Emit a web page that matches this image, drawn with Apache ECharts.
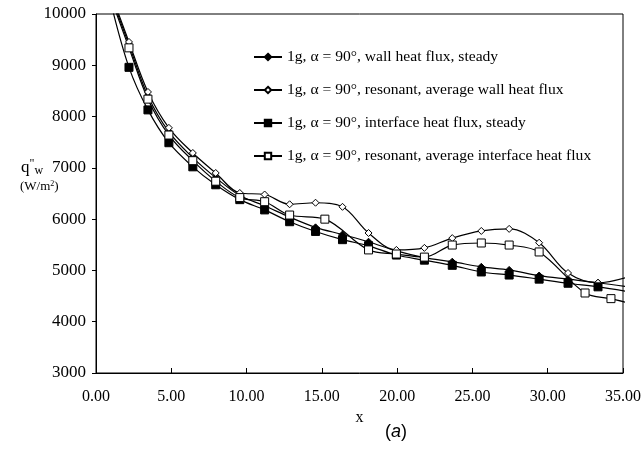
<!DOCTYPE html>
<html><head><meta charset="utf-8">
<script src="https://cdn.jsdelivr.net/npm/echarts@6/dist/echarts.min.js"></script>
<style>html,body{margin:0;padding:0;background:#fff}#c{width:644px;height:449px}</style>
</head><body><div id="c"></div>
<script>
// x positions of the computed points
var xs = [1.0, 2.19, 3.45, 4.84, 6.43, 7.95, 9.55, 11.2, 12.86, 14.58, 16.37, 18.1, 19.95, 21.81, 23.66, 25.59, 27.44, 29.43, 31.35, 33.34, 35.3];
// 1g, alpha=90, wall heat flux, steady
var wallSteady = [10350, 9400, 8400, 7700, 7200, 6810, 6460, 6260, 6040, 5840, 5700, 5560, 5380, 5250, 5170, 5070, 5010, 4900, 4830, 4760, 4680];
// 1g, alpha=90, resonant, average wall heat flux
var wallResonant = [10400, 9455, 8480, 7780, 7290, 6900, 6510, 6480, 6290, 6320, 6240, 5730, 5400, 5440, 5630, 5770, 5810, 5540, 4950, 4760, 4870];
// 1g, alpha=90, interface heat flux, steady
var ifaceSteady = [10200, 8960, 8130, 7490, 7020, 6670, 6380, 6180, 5950, 5760, 5600, 5480, 5300, 5200, 5100, 4970, 4910, 4830, 4750, 4680, 4590];
// 1g, alpha=90, resonant, average interface heat flux (own x positions)
var ifaceResX = [1.0, 2.19, 3.45, 4.84, 6.43, 7.95, 9.55, 11.2, 12.86, 15.2, 18.1, 19.95, 21.81, 23.66, 25.59, 27.44, 29.43, 32.48, 34.2, 35.3];
var ifaceResonant = [10300, 9340, 8340, 7640, 7140, 6740, 6420, 6340, 6080, 6000, 5400, 5320, 5260, 5495, 5535, 5495, 5360, 4560, 4450, 4370];

var names = [
  '1g, \u03b1 = 90\u00b0, wall heat flux, steady',
  '1g, \u03b1 = 90\u00b0, resonant, average wall heat flux',
  '1g, \u03b1 = 90\u00b0, interface heat flux, steady',
  '1g, \u03b1 = 90\u00b0, resonant, average interface heat flux'
];
var xTicks = [0, 5, 10, 15, 20, 25, 30, 35];

function pairs(x, y) { return x.map(function (v, i) { return [v, y[i]]; }); }

var serif = '"Liberation Serif", "Times New Roman", serif';
function mk(name, data, symbol, size, filled) {
  return {
    name: name, type: 'line', data: data, smooth: 0.35,
    symbol: symbol, symbolSize: size, showSymbol: true,
    lineStyle: { color: '#000', width: 1.2 },
    itemStyle: { color: filled ? '#000' : '#fff', borderColor: '#000', borderWidth: 1 },
    emphasis: { disabled: true }, clip: true, z: 3
  };
}

var chart = echarts.init(document.getElementById('c'), null, { renderer: 'canvas' });
chart.setOption({
  animation: false,
  backgroundColor: '#fff',
  grid: { left: 96, right: 20, top: 14, bottom: 76, show: true, borderColor: '#000', borderWidth: 1, backgroundColor: 'transparent' },
  legend: {
    orient: 'vertical', left: 248, top: 44, itemWidth: 28, itemHeight: 8, itemGap: 17,
    textStyle: { fontFamily: serif, fontSize: 15.6, color: '#000' },
    data: names, selectedMode: false
  },
  xAxis: {
    type: 'value', min: 0, max: 35, interval: 5,
    axisLine: { show: true, lineStyle: { color: '#000', width: 1 } },
    axisTick: { show: true, inside: true, length: 5, lineStyle: { color: '#000' } },
    splitLine: { show: false },
    axisLabel: { margin: 16, color: '#000', fontFamily: serif, fontSize: 16,
      formatter: function (v) { return xTicks.indexOf(v) >= 0 ? v.toFixed(2) : ''; } },
    name: 'x', nameLocation: 'middle', nameGap: 29,
    nameTextStyle: { fontFamily: serif, fontSize: 16, color: '#000' }
  },
  yAxis: {
    type: 'value', min: 3000, max: 10000, interval: 1000,
    axisLine: { show: true, lineStyle: { color: '#000', width: 1 } },
    axisTick: { show: true, inside: false, length: 4, lineStyle: { color: '#000' } },
    splitLine: { show: false },
    axisLabel: { margin: 10, color: '#000', fontFamily: serif, fontSize: 17,
      formatter: function (v) { return String(v); } }
  },
  graphic: [
    { type: 'text', left: 21, top: 158, style: {
        text: '{q|q}{s|"}{w|w}', fill: '#000',
        rich: { q: { fontFamily: serif, fontSize: 17 }, s: { fontFamily: serif, fontSize: 12, verticalAlign: 'top', padding: [0, 0, 8, 0] }, w: { fontFamily: serif, fontSize: 12, padding: [6, 0, 0, 0] } } } },
    { type: 'text', left: 20, top: 180, style: {
        text: '{a|(W/m}{b|2}{a|)}', fill: '#000',
        rich: { a: { fontFamily: serif, fontSize: 13 }, b: { fontFamily: serif, fontSize: 8, padding: [0, 0, 6, 0] } } } },
    { type: 'text', left: 385, top: 423, style: {
        text: '({i|a})', fill: '#000', font: '18px "Liberation Sans", Arial, sans-serif',
        rich: { i: { fontFamily: '"Liberation Sans", Arial, sans-serif', fontStyle: 'italic', fontSize: 18 } } } }
  ],
  series: [
    mk(names[0], pairs(xs, wallSteady), 'diamond', 7, true),
    mk(names[1], pairs(xs, wallResonant), 'diamond', 7, false),
    mk(names[2], pairs(xs, ifaceSteady), 'rect', 8, true),
    mk(names[3], pairs(ifaceResX, ifaceResonant), 'rect', 8, false)
  ]
});
</script>
</body></html>
